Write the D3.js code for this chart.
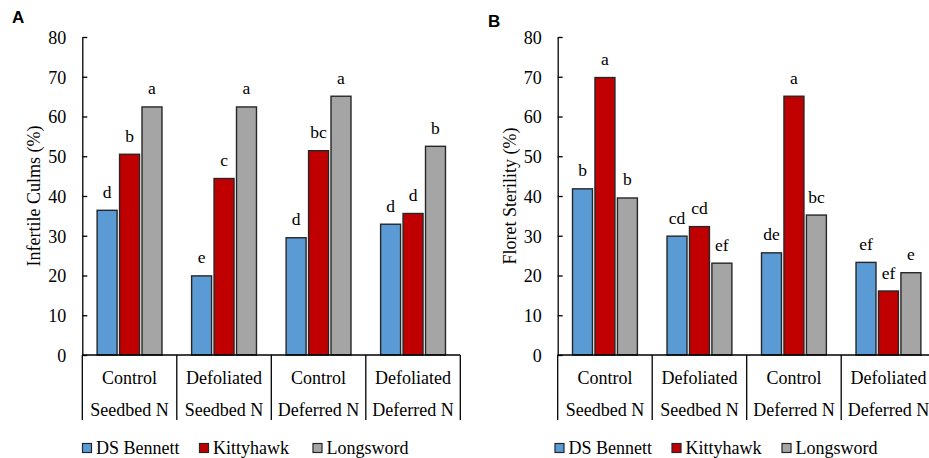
<!DOCTYPE html>
<html>
<head>
<meta charset="utf-8">
<script src="https://cdn.jsdelivr.net/npm/d3@7"></script>
<style>
  html, body { margin: 0; padding: 0; background: #fff; }
  svg { display: block; }
  text { font-family: "Liberation Serif", "Times New Roman", serif; fill: #000; }
  text.plabel { font-family: "Liberation Sans", Arial, sans-serif; font-weight: bold; }
</style>
</head>
<body>
<svg id="chart" width="929" height="458"></svg>
<script>
// ---- data ----
const categories = ["Control|Seedbed N", "Defoliated|Seedbed N", "Control|Deferred N", "Defoliated|Deferred N"];
const seriesNames = ["DS Bennett", "Kittyhawk", "Longsword"];
const seriesColors = ["#5B9BD5", "#C00000", "#A5A5A5"];
const yTicks = [0, 10, 20, 30, 40, 50, 60, 70, 80];

// Panel A: Infertile Culms (%)
const culmsBennett   = [36.4, 19.9, 29.5, 32.9];
const culmsKitty     = [50.5, 44.4, 51.4, 35.6];
const culmsLong      = [62.4, 62.4, 65.1, 52.5];
const culmsLetters   = [["d","b","a"], ["e","c","a"], ["d","bc","a"], ["d","d","b"]];

// Panel B: Floret Sterility (%)
const floretBennett  = [41.8, 29.9, 25.7, 23.3];
const floretKitty    = [69.8, 32.3, 65.1, 16.1];
const floretLong     = [39.5, 23.1, 35.2, 20.7];
const floretLetters  = [["b","a","b"], ["cd","cd","ef"], ["de","a","bc"], ["ef","ef","e"]];

const svg = d3.select("#chart");

function panel(cfg) {
  const g = svg.append("g");
  const x0 = cfg.axisX, catW = 94.5;
  const xCat = d3.scaleBand().domain(categories).range([x0, x0 + catW * 4]).padding(0);
  const xSer = d3.scaleBand().domain(seriesNames).range([0, catW]).paddingInner(0.11).paddingOuter(0.66);
  const y = d3.scaleLinear().domain([0, 80]).range([355, 37]);

  // bars
  categories.forEach((c, ci) => {
    seriesNames.forEach((s, si) => {
      const v = cfg.values[si][ci];
      g.append("rect")
        .attr("x", xCat(c) + xSer(s))
        .attr("y", y(v))
        .attr("width", xSer.bandwidth())
        .attr("height", y(0) - y(v))
        .attr("fill", seriesColors[si])
        .attr("stroke", "#262626")
        .attr("stroke-width", 1.4);
      g.append("text")
        .attr("x", xCat(c) + xSer(s) + xSer.bandwidth() / 2)
        .attr("y", y(v) - 12.5)
        .attr("text-anchor", "middle")
        .attr("font-size", 17.5)
        .text(cfg.letters[ci][si]);
    });
  });

  // y axis
  const yAxis = d3.axisLeft(y).tickValues(yTicks).tickSize(-5).tickPadding(16).tickSizeOuter(0);
  const ya = g.append("g").attr("transform", `translate(${x0},0)`).call(yAxis);
  ya.select(".domain").attr("stroke", "#000").attr("stroke-width", 1.3);
  ya.selectAll(".tick line").attr("stroke", "#000").attr("stroke-width", 1.3);
  ya.selectAll(".tick text").attr("font-size", 18).attr("fill", "#000").attr("dy", "0.36em");

  // x axis baseline
  const xr = xCat.range();
  g.append("line").attr("x1", xr[0]).attr("x2", xr[1]).attr("y1", y(0)).attr("y2", y(0))
    .attr("stroke", "#000").attr("stroke-width", 1.3);
  // left axis extends down, separators
  const seps = categories.map(c => xCat(c)).concat([xr[1]]);
  seps.forEach(sx => {
    g.append("line").attr("x1", sx).attr("x2", sx).attr("y1", y(0)).attr("y2", 420)
      .attr("stroke", "#000").attr("stroke-width", 1.3);
  });
  // category labels
  categories.forEach(c => {
    const [l1, l2] = c.split("|");
    const cx = xCat(c) + xCat.bandwidth() / 2;
    g.append("text").attr("x", cx).attr("y", 383.5).attr("text-anchor", "middle").attr("font-size", 18).text(l1);
    g.append("text").attr("x", cx).attr("y", 416).attr("text-anchor", "middle").attr("font-size", 18).text(l2);
  });

  // y title
  g.append("text")
    .attr("transform", `translate(${cfg.titleX},${(y(0) + y(80)) / 2}) rotate(-90)`)
    .attr("text-anchor", "middle")
    .attr("font-size", 18)
    .text(cfg.title);

  // panel letter
  g.append("text").attr("class", "plabel").attr("x", cfg.letterX).attr("y", cfg.letterY)
    .attr("font-size", 17)
    .text(cfg.letter);

  // legend
  const lg = g.append("g");
  seriesNames.forEach((s, i) => {
    const lx = cfg.legendX[i];
    lg.append("rect").attr("x", lx).attr("y", 443.5).attr("width", 9).attr("height", 9)
      .attr("fill", seriesColors[i]).attr("stroke", "#262626").attr("stroke-width", 1.2);
    lg.append("text").attr("x", lx + 13.5).attr("y", 453.5).attr("font-size", 18).text(s);
  });
}

panel({
  axisX: 82.3, values: [culmsBennett, culmsKitty, culmsLong], letters: culmsLetters,
  title: "Infertile Culms (%)", titleX: 40, letter: "A", letterX: 12, letterY: 23,
  legendX: [82.5, 199.5, 313]
});
panel({
  axisX: 557.7, values: [floretBennett, floretKitty, floretLong], letters: floretLetters,
  title: "Floret Sterility  (%)", titleX: 516, letter: "B", letterX: 488, letterY: 27,
  legendX: [555, 672, 782]
});
</script>
</body>
</html>
